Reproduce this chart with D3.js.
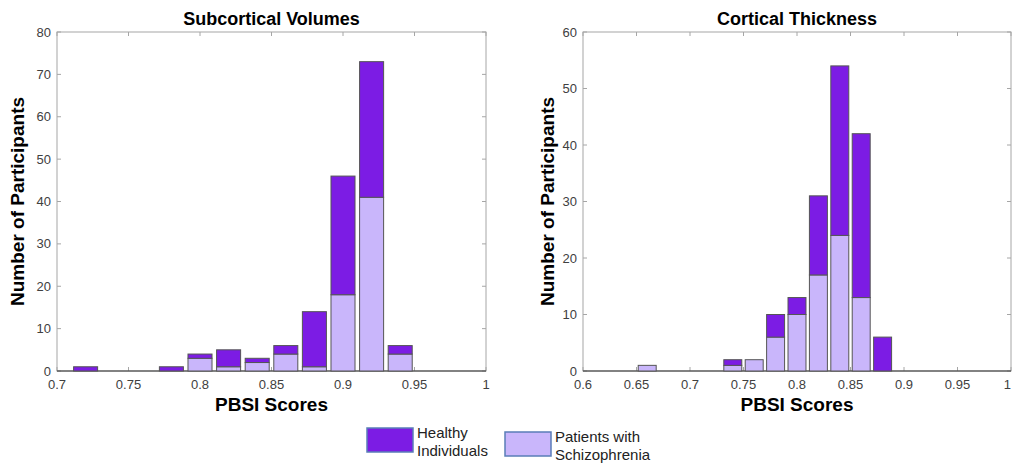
<!DOCTYPE html>
<html>
<head>
<meta charset="utf-8">
<script src="https://cdn.jsdelivr.net/npm/d3@7"></script>
<style>
  body { margin: 0; background: #fff; }
  svg { display: block; font-family: "Liberation Sans", Arial, sans-serif; }
</style>
</head>
<body>
<div id="chartDiv"></div>
<script>
//--------------------------------------------------------------------------------
// bin centres and stacked counts (patients at bottom, healthy on top)
var subBins     = [0.72, 0.74, 0.76, 0.78, 0.80, 0.82, 0.84, 0.86, 0.88, 0.90, 0.92, 0.94, 0.96, 0.98];
var subPatients = [0, 0, 0, 0, 3, 1, 2, 4, 1, 18, 41, 4, 0, 0];
var subHealthy  = [1, 0, 0, 1, 1, 4, 1, 2, 13, 28, 32, 2, 0, 0];

var ctxBins     = [0.62, 0.64, 0.66, 0.68, 0.70, 0.72, 0.74, 0.76, 0.78, 0.80, 0.82, 0.84, 0.86, 0.88, 0.90, 0.92, 0.94, 0.96, 0.98];
var ctxPatients = [0, 0, 1, 0, 0, 0, 1, 2, 6, 10, 17, 24, 13, 0, 0, 0, 0, 0, 0];
var ctxHealthy  = [0, 0, 0, 0, 0, 0, 1, 0, 4, 3, 14, 30, 29, 6, 0, 0, 0, 0, 0];

var subXTicks = [0.7, 0.75, 0.8, 0.85, 0.9, 0.95, 1];
var ctxXTicks = [0.6, 0.65, 0.7, 0.75, 0.8, 0.85, 0.9, 0.95, 1];
var subYTicks = [0, 10, 20, 30, 40, 50, 60, 70, 80];
var ctxYTicks = [0, 10, 20, 30, 40, 50, 60];

var legendLabels = [["Healthy", "Individuals"], ["Patients with", "Schizophrenia"]];

var darkCol  = "#7c1ce4";
var lightCol = "#c9b6fb";
var binWidth = 0.02;
var barFrac  = 0.84;
//--------------------------------------------------------------------------------
var width = 1012, height = 464;

var svg = d3.select("#chartDiv")
    .append("svg")
    .attr("width", width)
    .attr("height", height);

//--------------------------------------------------------------------------------
function drawPanel(opts)
{
   var xScale = d3.scaleLinear().domain(opts.xDomain).range([opts.left, opts.right]);
   var yScale = d3.scaleLinear().domain(opts.yDomain).range([opts.bottom, opts.top]);
   var g = svg.append("g");

   var data = opts.bins.map(function(b, i){
      return {x: b, p: opts.patients[i], h: opts.healthy[i]};
      });
   var bw = xScale(opts.xDomain[0] + binWidth * barFrac) - xScale(opts.xDomain[0]);

     // box frame, light grey like matlab
   g.append("rect")
      .attr("x", opts.left).attr("y", opts.top)
      .attr("width", opts.right - opts.left)
      .attr("height", opts.bottom - opts.top)
      .attr("fill", "none")
      .attr("stroke", "#a6a6a6")
      .attr("stroke-width", 1);

     // ticks on all four sides
   opts.xTicks.forEach(function(t){
      var x = xScale(t);
      var nearEdge = x > width - 8;
      g.append("line").attr("x1", x).attr("x2", x)
        .attr("y1", opts.bottom).attr("y2", opts.bottom - 4)
        .attr("stroke", "#a6a6a6");
      g.append("line").attr("x1", x).attr("x2", x)
        .attr("y1", opts.top).attr("y2", opts.top + 4)
        .attr("stroke", "#a6a6a6");
      g.append("text").attr("x", nearEdge ? width - 1 : x).attr("y", opts.bottom + 18)
        .attr("text-anchor", nearEdge ? "end" : "middle")
        .attr("font-size", 13).attr("fill", "#404040")
        .text(d3.format("~g")(t));
      });

   opts.yTicks.forEach(function(t){
      var y = yScale(t);
      g.append("line").attr("x1", opts.left).attr("x2", opts.left + 4)
        .attr("y1", y).attr("y2", y).attr("stroke", "#a6a6a6");
      g.append("line").attr("x1", opts.right).attr("x2", opts.right - 4)
        .attr("y1", y).attr("y2", y).attr("stroke", "#a6a6a6");
      g.append("text").attr("x", opts.left - 6).attr("y", y + 4.5)
        .attr("text-anchor", "end")
        .attr("font-size", 13).attr("fill", "#404040")
        .text(t);
      });

     // baseline
   g.append("line")
      .attr("x1", opts.left).attr("x2", opts.right)
      .attr("y1", opts.bottom).attr("y2", opts.bottom)
      .attr("stroke", "#333").attr("stroke-width", 1.2);

     // patients (bottom)
   g.selectAll("rect.pat")
      .data(data.filter(function(d){ return d.p > 0; }))
      .enter()
      .append("rect")
      .attr("class", "pat")
      .attr("x", function(d){ return xScale(d.x) - bw / 2; })
      .attr("y", function(d){ return yScale(d.p); })
      .attr("width", bw)
      .attr("height", function(d){ return yScale(0) - yScale(d.p); })
      .attr("fill", lightCol)
      .attr("stroke", "#555")
      .attr("stroke-width", 1);

     // healthy (stacked on top)
   g.selectAll("rect.hea")
      .data(data.filter(function(d){ return d.h > 0; }))
      .enter()
      .append("rect")
      .attr("class", "hea")
      .attr("x", function(d){ return xScale(d.x) - bw / 2; })
      .attr("y", function(d){ return yScale(d.p + d.h); })
      .attr("width", bw)
      .attr("height", function(d){ return yScale(d.p) - yScale(d.p + d.h); })
      .attr("fill", darkCol)
      .attr("stroke", "#555")
      .attr("stroke-width", 1);

     // titles and labels
   var cx = (opts.left + opts.right) / 2;
   g.append("text").attr("x", cx).attr("y", 25)
      .attr("text-anchor", "middle")
      .attr("font-size", 18).attr("font-weight", "bold")
      .text(opts.title);

   g.append("text").attr("x", cx).attr("y", 411)
      .attr("text-anchor", "middle")
      .attr("font-size", 19).attr("font-weight", "bold")
      .text("PBSI Scores");

   g.append("text")
      .attr("transform", "translate(" + opts.yLabelX + "," + ((opts.top + opts.bottom) / 2) + ") rotate(-90)")
      .attr("text-anchor", "middle")
      .attr("font-size", 19).attr("font-weight", "bold")
      .text("Number of Participants");

} // drawPanel
//--------------------------------------------------------------------------------
drawPanel({
   bins: subBins, patients: subPatients, healthy: subHealthy,
   xDomain: [0.7, 1], yDomain: [0, 80],
   xTicks: subXTicks, yTicks: subYTicks,
   left: 57, right: 486, top: 32, bottom: 371,
   yLabelX: 24, title: "Subcortical Volumes"
   });

drawPanel({
   bins: ctxBins, patients: ctxPatients, healthy: ctxHealthy,
   xDomain: [0.6, 1], yDomain: [0, 60],
   xTicks: ctxXTicks, yTicks: ctxYTicks,
   left: 583, right: 1011, top: 32, bottom: 371,
   yLabelX: 554, title: "Cortical Thickness"
   });

//--------------------------------------------------------------------------------
// legend
var legend = svg.append("g");
var legendPos = [{x: 367, y: 428, fill: darkCol}, {x: 505, y: 432, fill: lightCol}];

legendPos.forEach(function(p, i){
   legend.append("rect")
      .attr("x", p.x).attr("y", p.y)
      .attr("width", 46).attr("height", 24)
      .attr("fill", p.fill)
      .attr("stroke", "#5a7db8").attr("stroke-width", 1.5);
   legendLabels[i].forEach(function(line, j){
      legend.append("text")
         .attr("x", p.x + 50).attr("y", p.y + 10 + j * 18)
         .attr("font-size", 15).attr("fill", "#222")
         .text(line);
      });
   });
</script>
</body>
</html>
